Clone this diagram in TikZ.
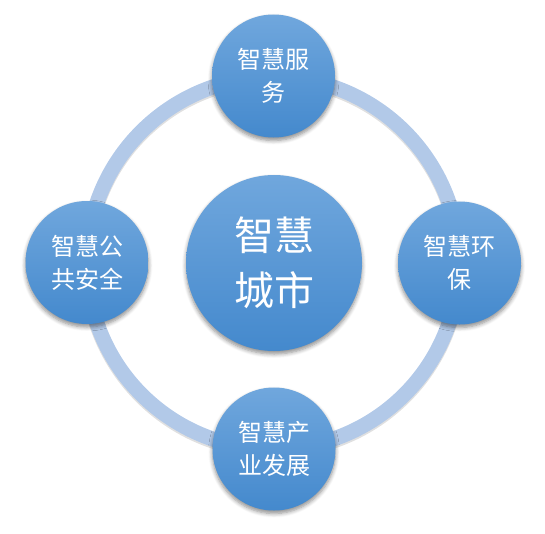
\documentclass[tikz,border=0pt]{standalone}
\usepackage{fontspec}
\newfontfamily\cjk{Noto Sans CJK SC}
\usetikzlibrary{shadows.blur}
\definecolor{ringcol}{RGB}{178,201,232}
\definecolor{topblue}{RGB}{112,167,221}
\definecolor{botblue}{RGB}{68,137,205}
\tikzset{
  bubble/.style={circle, inner sep=0pt, text=white, align=center,
    top color=topblue, bottom color=botblue, draw=none,
    blur shadow={shadow xshift=0pt, shadow yshift=-3pt, shadow blur steps=6, shadow opacity=45, shadow blur radius=4pt}},
  small/.style={bubble, minimum size=123pt, font=\cjk\fontsize{24}{33}\selectfont},
  big/.style={bubble, minimum size=176pt, font=\cjk\fontsize{40}{55}\selectfont},
  ring/.style={draw=ringcol, line width=15pt},
  ringshade/.style={draw=black, opacity=0.12, line width=15pt}
}
\begin{document}
\begin{tikzpicture}[x=1pt,y=-1pt]
\useasboundingbox (0,0) rectangle (545,533);
\coordinate (o) at (273,263);
\coordinate (os) at (273,265);
\draw[ringshade] (os) circle (186pt);
\draw[ring] (o) circle (186pt);
\node[big] (city) at (274,263) {智慧\\城市};
\node[small] (serv) at (273.5,76) {智慧服\\务};
\node[small] (env) at (459.5,263) {智慧环\\保};
\node[small] (ind) at (274,449) {智慧产\\业发展};
\node[small] (safe) at (87,262.5) {智慧公\\共安全};
\end{tikzpicture}
\end{document}
